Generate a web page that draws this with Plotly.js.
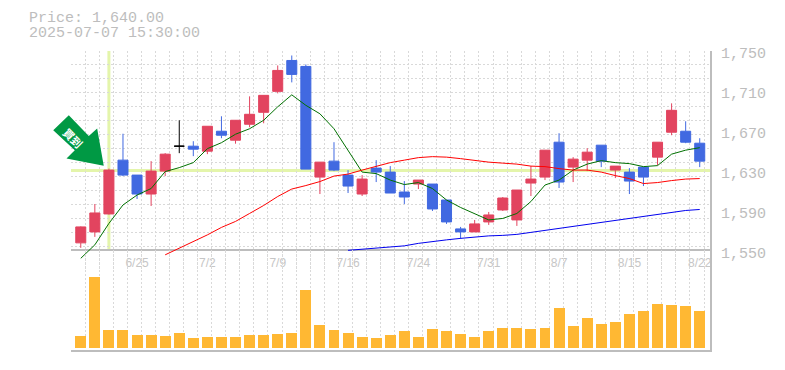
<!DOCTYPE html>
<html><head><meta charset="utf-8">
<script src="https://cdn.plot.ly/plotly-3.0.1.min.js"></script>
<style>html,body{margin:0;padding:0;background:#fff}#c{width:785px;height:370px}</style></head>
<body><div id="c"></div>
<script>
const dates=['6/19','6/20','6/23','6/24','6/25','6/26','6/27','6/30','7/1','7/2','7/3','7/4','7/7','7/8','7/9','7/10','7/11','7/14','7/15','7/16','7/17','7/18','7/22','7/23','7/24','7/25','7/28','7/29','7/30','7/31','8/1','8/4','8/5','8/6','8/7','8/8','8/12','8/13','8/14','8/15','8/18','8/19','8/20','8/21','8/22'];
const opens=[1557.5,1568.5,1586.5,1640.5,1625.5,1606.5,1629.5,1654.5,1654.5,1649.5,1669.5,1660.5,1676.5,1688.5,1709.5,1740.5,1734.5,1623.5,1639.5,1625.5,1606.5,1632.5,1628.5,1608.5,1616.5,1616.5,1600.5,1571.5,1568.5,1578.5,1590.5,1580.5,1617.5,1623.5,1658.5,1633.5,1640.5,1655.5,1630.5,1628.5,1633.5,1643.5,1668.5,1669.5,1657.5];
const highs=[1574,1596.5,1632,1667,1625.5,1639.5,1647.5,1680.5,1659.5,1674.5,1684.5,1680.5,1704.5,1705.5,1735.5,1745.5,1736.5,1638.5,1658.5,1630.5,1625.5,1640.5,1634.5,1619.5,1620.5,1616.5,1600.5,1573.5,1580.5,1588.5,1603.5,1610.5,1634.5,1650.5,1667.5,1643.5,1652.5,1655.5,1634.5,1632.5,1633.5,1658.5,1697.5,1679.5,1662.5];
const lows=[1552.5,1563.5,1586,1624.5,1601.5,1594.5,1624.5,1647.5,1644.5,1646.5,1662.5,1657,1673.5,1677.5,1707.5,1718.5,1631.5,1606.5,1629.5,1607.5,1604.5,1618.5,1607.5,1596.5,1611.5,1589.5,1576.5,1561.5,1568.5,1575.5,1589.5,1574.5,1604.5,1620.5,1612.5,1618.5,1629.5,1633.5,1622.5,1606.5,1614.5,1635.5,1665.5,1657.5,1633.5];
const closes=[1573.5,1587.5,1630.5,1625.5,1606.5,1629.5,1646.5,1654.5,1651.5,1674.5,1665.5,1680.5,1686.5,1705.5,1730.5,1726.5,1631.5,1638.5,1630.5,1614.5,1621.5,1628.5,1607.5,1603.5,1620.5,1591.5,1578.5,1568.5,1576.5,1585.5,1602.5,1610.5,1621.5,1650.5,1618.5,1641.5,1648.5,1639.5,1634.5,1619.5,1623.5,1658.5,1690.5,1658.5,1639.5];
const maShort=[1542,1555.5,1577,1595.5,1605.5,1612,1629,1633,1638,1652,1658,1666.5,1672,1680.5,1694,1706,1695.5,1687,1672,1650.5,1628.5,1627,1620.5,1616,1618,1612,1600.5,1593,1586.5,1580.5,1582,1587,1599,1615.5,1620.5,1630.5,1636.5,1640,1638,1637,1634,1635,1646.5,1650.5,1653];
const maMid=[null,null,null,null,null,null,1545.5,1552,1558.5,1565.5,1573,1579,1587,1595,1604,1611.5,1615,1619,1624.5,1626.5,1630.5,1634,1638,1640.5,1643,1644,1643.5,1642,1640,1638.5,1637.5,1636.5,1634.5,1634,1632,1630.5,1630.5,1628.5,1625,1622,1617,1618,1620,1621.5,1622];
const maLong=[null,null,null,null,null,null,null,null,null,null,null,null,null,null,null,null,null,null,null,1550,1551,1552,1553.5,1554.5,1557,1559,1560.5,1562,1563.5,1564.5,1565,1566,1568,1570,1572,1574.5,1576.5,1578.5,1580.5,1582.5,1584,1586,1588,1590,1591];
const volumes=[12,71,18,18,13,13,12,15,10,11,11,11,13,13,14,15,58,23,18,15,11,10,13,17,11,19,17,14,11,17,20,20,19,20,40,22,30,24,26,34,37,44,43,42,37];
const tickIdx=[4,9,14,19,24,29,34,39,44];
const priceTicks=[1550,1590,1630,1670,1710,1750];
const priceGrid=[1554,1568,1582,1596,1610,1624,1638,1652,1666,1680,1694,1708,1722,1736,1750];
const headerLines=['Price: 1,640.00','2025-07-07 15:30:00'];
const markerLabel='買到';
const crossIndex=2, crossPrice=1630;

const idx=dates.map((d,i)=>i);
const RED='#e2445f',BLUE='#4169e1',GREY='#bdbdbd',GRID='#d9d9d9',MONO='"Liberation Mono",monospace';
const xr=[-0.695,44.73];
function sub(test){const k=idx.filter(test);return {x:k,open:k.map(i=>opens[i]),high:k.map(i=>highs[i]),low:k.map(i=>lows[i]),close:k.map(i=>closes[i])};}
function candle(test,col){return Object.assign(sub(test),{type:'candlestick',xaxis:'x',yaxis:'y',whiskerwidth:0,
 increasing:{line:{color:col,width:1},fillcolor:col},decreasing:{line:{color:col,width:1},fillcolor:col},showlegend:false,hoverinfo:'skip'});}
function ma(v,c){return {type:'scatter',mode:'lines',x:idx,y:v,line:{color:c,width:1},xaxis:'x',yaxis:'y',showlegend:false,hoverinfo:'skip'};}
const traces=[
 candle(i=>closes[i]>opens[i],RED),
 candle(i=>closes[i]<opens[i],BLUE),
 candle(i=>closes[i]===opens[i],'#000000'),
 ma(maShort,'#007000'),ma(maMid,'#ff0000'),ma(maLong,'#0000ee'),
 {type:'bar',x:idx,y:volumes,marker:{color:'#ffb833',line:{width:0}},width:0.78,xaxis:'x2',yaxis:'y2',showlegend:false,hoverinfo:'skip'}
];
const W=640,H=300;
const px=(x)=>(x-70.5)/W, py=(y)=>(350.5-y)/H;
const arrowPts=[[52.7,130],[68.3,115],[88.3,135.7],[96.7,128.3],[103.3,165.7],[66,158.3],[74.3,150]];
const arrowPath='M'+arrowPts.map(p=>px(p[0])+','+py(p[1])).join('L')+'Z';
const minorX={tick0:-0.695,dtick:1,showgrid:true,gridcolor:GRID,griddash:'2px,2px',gridwidth:1,ticks:''};
const layout={width:785,height:370,showlegend:false,paper_bgcolor:'#fff',plot_bgcolor:'rgba(0,0,0,0)',
 margin:{l:70.5,r:74.5,t:50.5,b:19.5},bargap:0,boxgap:0.2,boxgroupgap:0.11,dragmode:false,
 xaxis:{domain:[0,1],anchor:'free',position:py(250.5),layer:'below traces',range:xr,rangeslider:{visible:false},tickmode:'array',tickvals:tickIdx,ticktext:tickIdx.map(i=>dates[i]),showgrid:false,minor:minorX,
  showline:true,linecolor:GREY,linewidth:2,ticks:'',zeroline:false,tickfont:{family:'"Liberation Sans"',size:12,color:'#c6c6c6'},ticklabelstandoff:1},
 xaxis2:{domain:[0,1],anchor:'y2',range:xr,tickmode:'array',tickvals:[],showgrid:false,minor:minorX,showline:true,linecolor:GREY,linewidth:2,zeroline:false,showticklabels:false,ticks:''},
 yaxis:{domain:[py(270.5),1],anchor:'x',side:'right',range:[1530,1750],tickmode:'array',tickvals:priceTicks,tickformat:',d',showgrid:false,
  minor:{tickmode:'array',tickvals:priceGrid,showgrid:true,gridcolor:GRID,griddash:'2px,2px',gridwidth:1,ticks:''},
  showline:true,linecolor:GREY,linewidth:2,ticks:'',zeroline:false,tickfont:{family:MONO,size:15,color:GREY},ticklabelstandoff:6,ticklabelshift:2},
 yaxis2:{domain:[0,1/3],anchor:'x2',side:'right',range:[-2.5,97.5],showgrid:false,showline:true,linecolor:GREY,linewidth:2,zeroline:false,showticklabels:false,ticks:''},
 shapes:[
  {type:'line',layer:'below',xref:'x',yref:'y',x0:crossIndex,x1:crossIndex,y0:1551,y1:1750,line:{color:'#e4f5ab',width:3}},
  {type:'line',layer:'below',xref:'x',yref:'y',x0:xr[0],x1:xr[1],y0:crossPrice,y1:crossPrice,line:{color:'#e4f5ab',width:3}},
  {type:'path',layer:'above',xref:'paper',yref:'paper',path:arrowPath,fillcolor:'#009944',line:{width:0}}
 ],
 annotations:[
  {xref:'paper',yref:'paper',x:px(26.5),y:py(18),xanchor:'left',yanchor:'middle',showarrow:false,text:headerLines[0],font:{family:MONO,size:15,color:GREY}},
  {xref:'paper',yref:'paper',x:px(26.5),y:py(33),xanchor:'left',yanchor:'middle',showarrow:false,text:headerLines[1],font:{family:MONO,size:15,color:GREY}},
  {xref:'paper',yref:'paper',x:px(73),y:py(138),xanchor:'center',yanchor:'middle',showarrow:false,textangle:45,text:markerLabel,font:{family:'"Noto Sans CJK JP"',size:11,color:'#ffffff',weight:700}}
 ]};
Plotly.newPlot('c',traces,layout,{displayModeBar:false,staticPlot:true});
</script></body></html>
